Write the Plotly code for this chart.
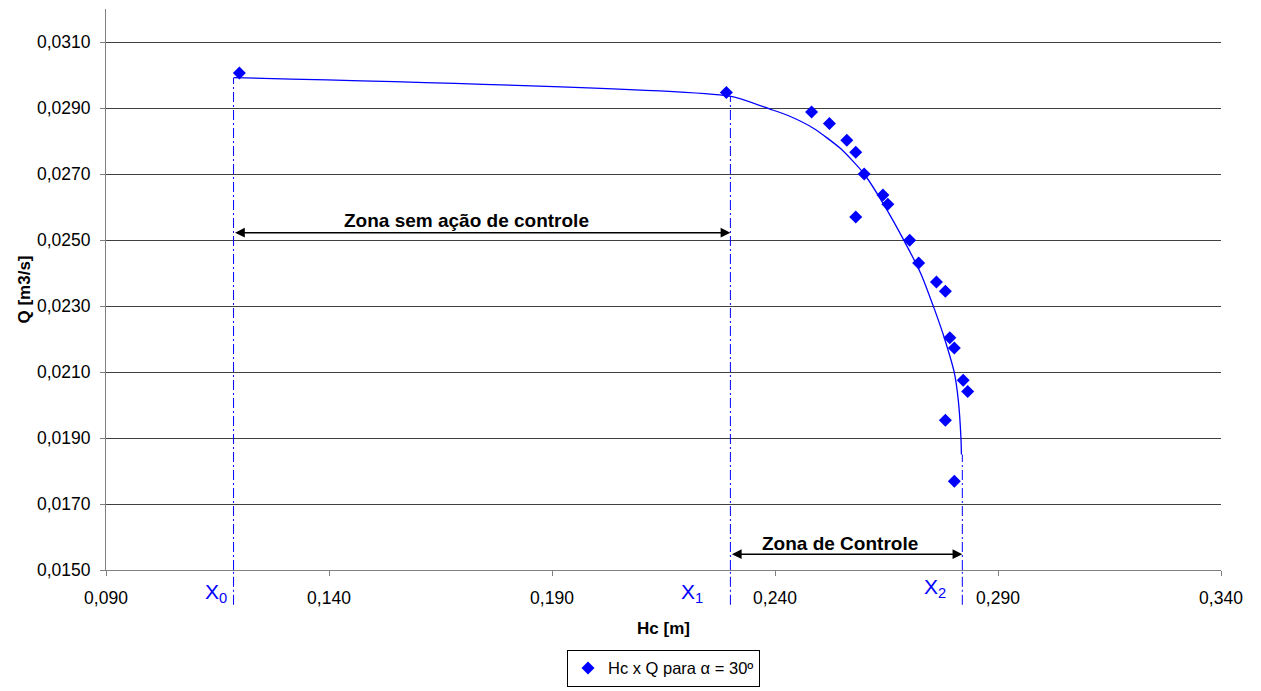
import plotly.graph_objects as go

# Measured points: Hc [m] vs Q [m3/s]
hc_points = [0.1199, 0.2291, 0.2482, 0.2522, 0.2561, 0.2581, 0.2600, 0.2642, 0.2653,
             0.2581, 0.2702, 0.2722, 0.2762, 0.2782, 0.2792, 0.2802, 0.2822, 0.2832,
             0.2782, 0.2802]
q_points = [0.03006, 0.02947, 0.02888, 0.02853, 0.02802, 0.02766, 0.02700, 0.02636, 0.02608,
            0.02570, 0.02499, 0.02430, 0.02373, 0.02345, 0.02204, 0.02173, 0.02075, 0.02041,
            0.01954, 0.01769]

# Fitted curve
hc_curve = [0.1187, 0.2298, 0.2390, 0.2428, 0.2487, 0.2547, 0.2600, 0.2645, 0.2689,
            0.2727, 0.2757, 0.2779, 0.2802, 0.2811, 0.2817, 0.2818]
q_curve = [0.02992, 0.02936, 0.02896, 0.02878, 0.02838, 0.02777, 0.02700, 0.02605, 0.02499,
           0.02398, 0.02292, 0.02206, 0.02098, 0.02014, 0.01898, 0.01850]

# Reference lines X0, X1, X2 and their top values
x_marks = [0.1186, 0.2300, 0.2820]
x_marks_top = [0.02992, 0.02936, 0.01850]
x_mark_labels = ["X<sub>0</sub>", "X<sub>1</sub>", "X<sub>2</sub>"]
x_label_pos = [0.1147, 0.2215, 0.2758]
x_label_ypaper = [-0.041, -0.041, -0.032]

zone1_text = "Zona sem ação de controle"
zone2_text = "Zona de Controle"
zone1_y = 0.02522
zone2_y = 0.01548
zone1_text_pos = (0.1708, 0.02560)
zone2_text_pos = (0.2545, 0.01581)

x_range = [0.090, 0.340]
y_range = [0.0150, 0.0320]

BLUE = "#0000FF"
FONT = "Liberation Sans, Arial, sans-serif"

fig = go.Figure()

fig.add_trace(go.Scatter(
    x=hc_curve, y=q_curve, mode="lines",
    line=dict(color=BLUE, width=1.3, shape="spline", smoothing=0.6),
    showlegend=False, hoverinfo="skip"))

fig.add_trace(go.Scatter(
    x=hc_points, y=q_points, mode="markers",
    marker=dict(symbol="diamond", size=10, color=BLUE),
    name="Hc x Q para α = 30º"))

shapes = []
for xm, yt in zip(x_marks, x_marks_top):
    shapes.append(dict(type="line", xref="x", yref="y", x0=xm, x1=xm, y0=y_range[0], y1=yt,
                       line=dict(color=BLUE, width=1, dash="10px,3px,2px,3px")))
    shapes.append(dict(type="line", xref="x", yref="paper", x0=xm, x1=xm, y0=-0.062, y1=0,
                       line=dict(color=BLUE, width=1, dash="10px,3px,2px,3px")))

annotations = []
for xl, lab, yp in zip(x_label_pos, x_mark_labels, x_label_ypaper):
    annotations.append(dict(x=xl, y=yp, xref="x", yref="paper", text=lab, showarrow=False,
                            font=dict(family=FONT, size=21, color=BLUE),
                            xanchor="center", yanchor="middle"))

# double arrows
for (xa, xb, ya) in [(x_marks[0], x_marks[1], zone1_y), (x_marks[1], x_marks[2], zone2_y)]:
    annotations.append(dict(x=xb, y=ya, ax=xa, ay=ya, xref="x", yref="y", axref="x", ayref="y",
                            text="", showarrow=True, arrowhead=2, arrowside="end+start",
                            arrowsize=1.3, arrowwidth=1.5, arrowcolor="black",
                            standoff=0, startstandoff=0))

annotations.append(dict(x=zone1_text_pos[0], y=zone1_text_pos[1], xref="x", yref="y",
                        text="<b>" + zone1_text + "</b>", showarrow=False,
                        font=dict(family=FONT, size=19, color="black")))
annotations.append(dict(x=zone2_text_pos[0], y=zone2_text_pos[1], xref="x", yref="y",
                        text="<b>" + zone2_text + "</b>", showarrow=False,
                        font=dict(family=FONT, size=19, color="black")))

fig.update_layout(
    width=1261, height=691,
    margin=dict(l=106, r=40, t=9, b=121, autoexpand=False),
    paper_bgcolor="white", plot_bgcolor="white",
    separators=",.",
    font=dict(family=FONT, size=17, color="black"),
    shapes=shapes, annotations=annotations,
    showlegend=True,
    legend=dict(orientation="h", x=0.5, xanchor="center", y=-0.142, yanchor="top",
                bordercolor="black", borderwidth=1, bgcolor="white",
                font=dict(family=FONT, size=16.5, color="black")),
    xaxis=dict(range=x_range, tickmode="array",
               tickvals=[0.090, 0.140, 0.190, 0.240, 0.290, 0.340],
               tickformat=".3f", showgrid=False, zeroline=False,
               showline=True, linecolor="#808080", linewidth=1,
               ticks="outside", ticklen=5, tickcolor="#808080",
               tickfont=dict(family=FONT, size=17.5, color="black"),
               ticklabelstandoff=7, automargin=False,
               title=dict(text="<b>Hc [m]</b>", standoff=15,
                          font=dict(family=FONT, size=17, color="black"))),
    yaxis=dict(range=y_range, tickmode="array",
               tickvals=[0.0150, 0.0170, 0.0190, 0.0210, 0.0230, 0.0250, 0.0270, 0.0290, 0.0310],
               tickformat=".4f", showgrid=True, gridcolor="#404040", gridwidth=1,
               zeroline=False, showline=True, linecolor="#808080", linewidth=1,
               ticks="outside", ticklen=5, tickcolor="#808080",
               tickfont=dict(family=FONT, size=17.5, color="black"),
               ticklabelstandoff=6, automargin=False,
               title=dict(text="<b>Q [m3/s]</b>", standoff=2,
                          font=dict(family=FONT, size=17, color="black"))),
)

fig.write_html("out.html")
